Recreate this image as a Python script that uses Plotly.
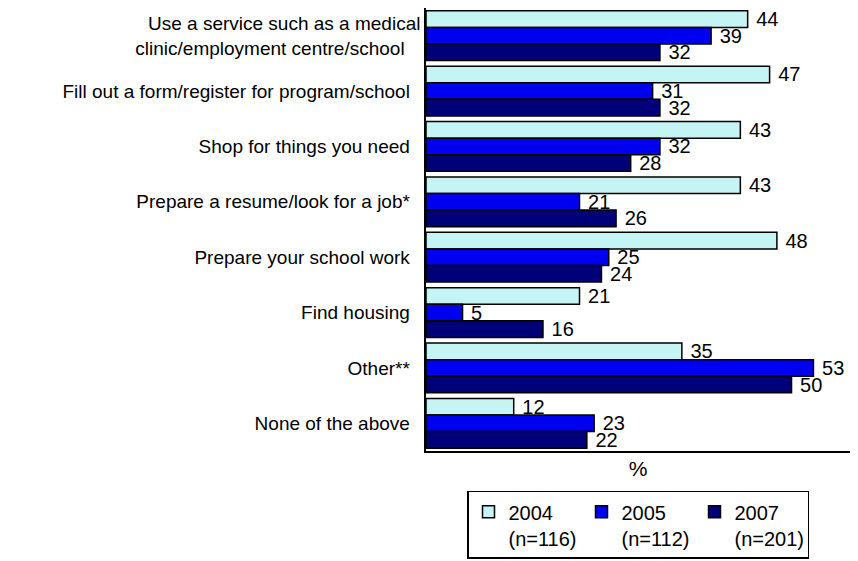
import plotly.graph_objects as go

categories = [
    "Use a service such as a medical<br>clinic/employment centre/school ",
    "Fill out a form/register for program/school",
    "Shop for things you need",
    "Prepare a resume/look for a job*",
    "Prepare your school work",
    "Find housing",
    "Other**",
    "None of the above",
]
series_names = ["2004<br>(n=116)", "2005<br>(n=112)", "2007<br>(n=201)"]
values_2004 = [44, 47, 43, 43, 48, 21, 35, 12]
values_2005 = [39, 31, 32, 21, 25, 5, 53, 23]
values_2007 = [32, 32, 28, 26, 24, 16, 50, 22]
colors = ["#C4F4F4", "#0000F0", "#000078"]

FONT = "Liberation Sans, Arial, sans-serif"

fig = go.Figure()
for name, vals, col in zip(series_names, [values_2004, values_2005, values_2007], colors):
    fig.add_trace(go.Bar(
        y=categories, x=vals, name=name, orientation="h",
        marker=dict(color=col, line=dict(color="#000000", width=1.5)),
        texttemplate=" %{x}", textposition="outside", cliponaxis=False,
        constraintext="none",
        textfont=dict(family=FONT, size=20, color="#000000"),
    ))

fig.update_layout(
    width=858, height=561,
    margin=dict(l=426, r=8, t=8, b=110, autoexpand=False),
    barmode="group", bargap=0.1, bargroupgap=0,
    plot_bgcolor="white", paper_bgcolor="white",
    font=dict(family=FONT, size=19, color="#000000"),
    xaxis=dict(range=[0, 58], showticklabels=False, ticks="", showgrid=False,
               zeroline=False, showline=True, linecolor="#000000", linewidth=1.5,
               automargin=False,
               title=dict(text="%", standoff=10, font=dict(size=21))),
    yaxis=dict(autorange="reversed", showgrid=False, ticks="", showline=True,
               linecolor="#000000", linewidth=1.5, ticksuffix="  ",
               automargin=False, tickfont=dict(size=19)),
    legend=dict(orientation="h", x=0.5, xanchor="center", y=-0.09, yanchor="top",
                bordercolor="#000000", borderwidth=1.5, traceorder="normal",
                valign="top", font=dict(size=20), entrywidth=68,
                itemwidth=30, tracegroupgap=0),
)

fig.write_html("out.html")
